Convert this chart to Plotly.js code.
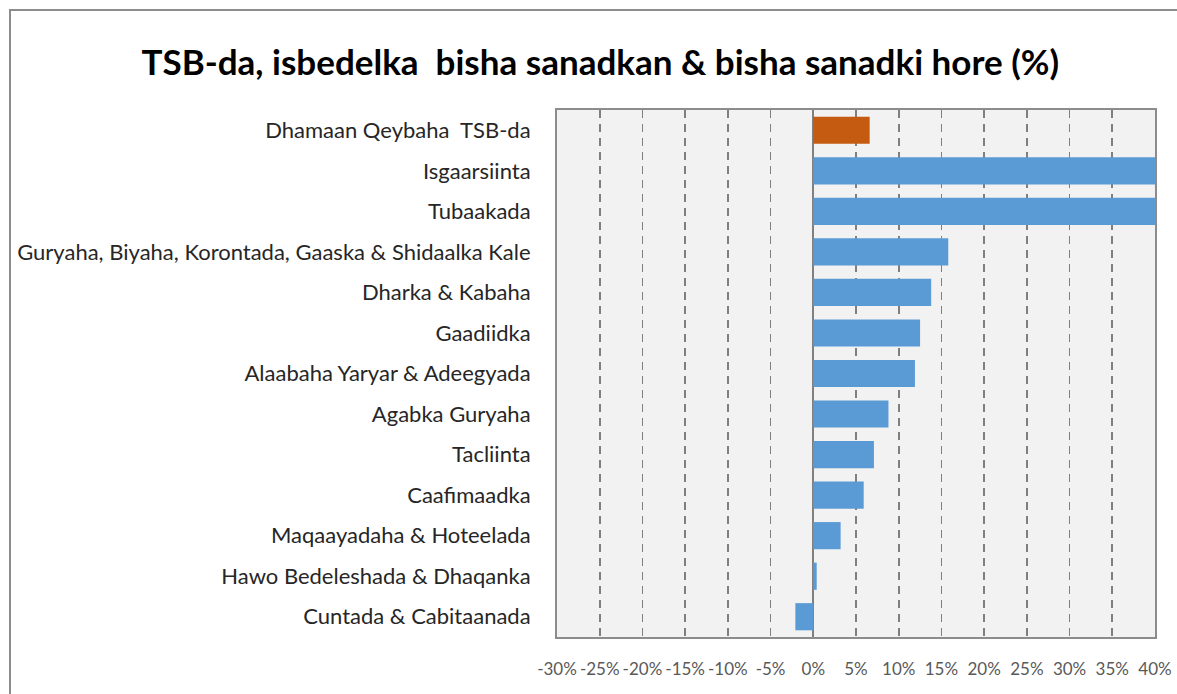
<!DOCTYPE html>
<html>
<head>
<meta charset="utf-8">
<script src="https://cdn.plot.ly/plotly-3.0.1.min.js"></script>
<style>
html,body{margin:0;padding:0;background:#fff;overflow:hidden;}
#frame{position:absolute;left:9px;top:9px;width:1300px;height:800px;border-left:2px solid #8c8c8c;border-top:2px solid #8c8c8c;}
#chart{position:absolute;left:0;top:0;width:1177px;height:694px;}
</style>
</head>
<body>
<div id="frame"></div>
<div id="chart"></div>
<script>
const categories = [
  "Dhamaan Qeybaha  TSB-da",
  "Isgaarsiinta",
  "Tubaakada",
  "Guryaha, Biyaha, Korontada, Gaaska & Shidaalka Kale",
  "Dharka & Kabaha",
  "Gaadiidka",
  "Alaabaha Yaryar & Adeegyada",
  "Agabka Guryaha",
  "Tacliinta",
  "Caafimaadka",
  "Maqaayadaha & Hoteelada",
  "Hawo Bedeleshada & Dhaqanka",
  "Cuntada & Cabitaanada"
];
const changePct = [6.6, 48, 46, 15.8, 13.8, 12.5, 11.9, 8.8, 7.1, 5.9, 3.2, 0.4, -2.1];
const isTotal = [true, false, false, false, false, false, false, false, false, false, false, false, false];
const tickValues = [-30, -25, -20, -15, -10, -5, 0, 5, 10, 15, 20, 25, 30, 35, 40];
const tickLabels = ["-30%", "-25%", "-20%", "-15%", "-10%", "-5%", "0%", "5%", "10%", "15%", "20%", "25%", "30%", "35%", "40%"];

const totalColor = "#c55a11";
const seriesColor = "#5b9bd5";

const trace = {
  type: "bar",
  orientation: "h",
  x: changePct,
  y: categories,
  marker: {
    color: isTotal.map(t => t ? totalColor : seriesColor),
    line: {width: 0}
  },
  hoverinfo: "x+y"
};

const layout = {
  width: 1177,
  height: 694,
  margin: {l: 557, r: 22, t: 110, b: 57},
  paper_bgcolor: "rgba(0,0,0,0)",
  plot_bgcolor: "#f2f2f2",
  bargap: 0.33,
  showlegend: false,
  title: {
    text: "<b>TSB-da, isbedelka  bisha sanadkan & bisha sanadki hore (%)</b>",
    font: {family: "Lato, 'Open Sans', sans-serif", size: 35, color: "#000"},
    x: 0.51, xref: "container", xanchor: "center",
    y: 0.91, yref: "container", yanchor: "middle"
  },
  xaxis: {
    range: [-30, 40],
    tickmode: "array",
    tickvals: tickValues,
    ticktext: tickLabels,
    tickangle: 0,
    showgrid: true,
    gridcolor: "#7f7f7f",
    gridwidth: 1.8,
    griddash: "8px,6px",
    zeroline: true,
    zerolinecolor: "#808080",
    zerolinewidth: 2,
    showline: true,
    linecolor: "#8c8c8c",
    linewidth: 2,
    mirror: true,
    ticks: "",
    ticklabelstandoff: 16,
    tickfont: {family: "Lato, 'Open Sans', sans-serif", size: 17, color: "#595959"},
    fixedrange: true
  },
  yaxis: {
    autorange: "reversed",
    showgrid: false,
    zeroline: false,
    showline: true,
    linecolor: "#8c8c8c",
    linewidth: 2,
    mirror: true,
    ticks: "",
    ticklabelstandoff: 20,
    tickfont: {family: "Lato, 'Open Sans', sans-serif", size: 22, color: "#262626"},
    fixedrange: true
  }
};

Plotly.newPlot("chart", [trace], layout, {displayModeBar: false, staticPlot: true});
</script>
</body>
</html>
